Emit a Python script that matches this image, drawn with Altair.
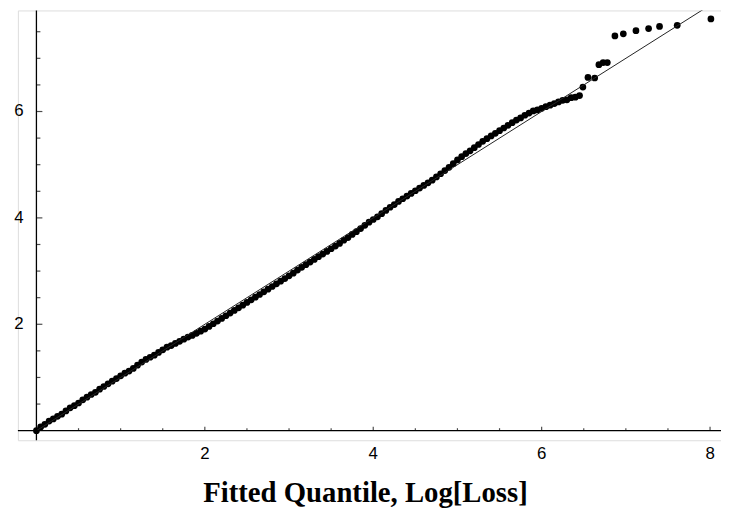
import altair as alt
import pandas as pd

q_fit = [
    0.00, 0.05, 0.10, 0.15, 0.20, 0.25, 0.30, 0.35, 0.40, 0.45,
    0.50, 0.55, 0.60, 0.65, 0.70, 0.75, 0.80, 0.85, 0.90, 0.95,
    1.00, 1.05, 1.10, 1.15, 1.20, 1.25, 1.30, 1.35, 1.40, 1.45,
    1.50, 1.55, 1.60, 1.65, 1.70, 1.75, 1.80, 1.85, 1.90, 1.95,
    2.00, 2.05, 2.10, 2.15, 2.20, 2.25, 2.30, 2.35, 2.40, 2.45,
    2.50, 2.55, 2.60, 2.65, 2.70, 2.75, 2.80, 2.85, 2.90, 2.95,
    3.00, 3.05, 3.10, 3.15, 3.20, 3.25, 3.30, 3.35, 3.40, 3.45,
    3.50, 3.55, 3.60, 3.65, 3.70, 3.75, 3.80, 3.85, 3.90, 3.95,
    4.00, 4.05, 4.10, 4.15, 4.20, 4.25, 4.30, 4.35, 4.40, 4.45,
    4.50, 4.55, 4.60, 4.65, 4.70, 4.75, 4.80, 4.85, 4.90, 4.95,
    5.00, 5.05, 5.10, 5.15, 5.20, 5.25, 5.30, 5.35, 5.40, 5.45,
    5.50, 5.55, 5.60, 5.65, 5.70, 5.75, 5.80, 5.85, 5.90, 5.95,
    6.00, 6.05, 6.10, 6.15, 6.20, 6.25, 6.30, 6.35, 6.40, 6.45,
    6.49, 6.55, 6.63, 6.68, 6.73, 6.78,
    6.87, 6.97, 7.12, 7.27, 7.40, 7.61, 8.01,
]
q_obs = [
    0.00, 0.07, 0.12, 0.18, 0.22, 0.27, 0.31, 0.37, 0.43, 0.47,
    0.52, 0.58, 0.63, 0.68, 0.72, 0.78, 0.83, 0.88, 0.93, 0.98,
    1.03, 1.08, 1.12, 1.17, 1.23, 1.29, 1.34, 1.38, 1.42, 1.47,
    1.52, 1.57, 1.60, 1.64, 1.68, 1.72, 1.76, 1.79, 1.83, 1.87,
    1.91, 1.96, 2.01, 2.06, 2.11, 2.16, 2.21, 2.26, 2.31, 2.36,
    2.41, 2.46, 2.51, 2.56, 2.61, 2.66, 2.71, 2.76, 2.81, 2.86,
    2.91, 2.96, 3.02, 3.07, 3.12, 3.17, 3.22, 3.27, 3.32, 3.37,
    3.42, 3.47, 3.52, 3.58, 3.63, 3.69, 3.74, 3.80, 3.86, 3.92,
    3.97, 4.02, 4.08, 4.14, 4.20, 4.25, 4.31, 4.36, 4.41, 4.46,
    4.51, 4.56, 4.61, 4.66, 4.71, 4.77, 4.83, 4.89, 4.95, 5.02,
    5.09, 5.15, 5.21, 5.26, 5.32, 5.38, 5.44, 5.49, 5.54, 5.59,
    5.64, 5.69, 5.74, 5.79, 5.84, 5.88, 5.93, 5.97, 6.01, 6.03,
    6.06, 6.09, 6.12, 6.15, 6.18, 6.21, 6.22, 6.26, 6.27, 6.30,
    6.46, 6.64, 6.63, 6.88, 6.92, 6.92,
    7.42, 7.46, 7.52, 7.56, 7.60, 7.62, 7.74,
]

ref_line = [0, 8]

x_major = [2, 4, 6, 8]
x_minor = [0.5, 1, 1.5, 2.5, 3, 3.5, 4.5, 5, 5.5, 6.5, 7, 7.5]
y_major = [2, 4, 6]
y_minor = [0.5, 1, 1.5, 2.5, 3, 3.5, 4.5, 5, 5.5, 6.5, 7, 7.5]

XMIN, XMAX = -0.22, 8.13
YMIN, YMAX = -0.18, 7.90

xs = alt.Scale(domain=[XMIN, XMAX], nice=False, zero=False)
ys = alt.Scale(domain=[YMIN, YMAX], nice=False, zero=False)
X = alt.X("x:Q", scale=xs, axis=None)
Y = alt.Y("y:Q", scale=ys, axis=None)

LABEL_FONT = "Liberation Sans"

pts = alt.Chart(pd.DataFrame({"x": q_fit, "y": q_obs})).mark_point(
    filled=True, shape="circle", size=46, color="black", opacity=1
).encode(X, Y)

diag = alt.Chart(pd.DataFrame({"x": ref_line, "y": ref_line})).mark_line(
    color="#222222", strokeWidth=1, clip=True
).encode(X, Y)

x_axis = alt.Chart(pd.DataFrame({"x": [XMIN], "x2": [XMAX], "y": [0]})).mark_rule(
    color="black", strokeWidth=1.3
).encode(X, x2="x2:Q", y=Y)
y_axis = alt.Chart(pd.DataFrame({"y": [YMIN], "y2": [YMAX], "x": [0]})).mark_rule(
    color="black", strokeWidth=1.3
).encode(Y, y2="y2:Q", x=X)

def xframe(vals):
    return pd.DataFrame({"x": vals, "y": [0] * len(vals)})

def yframe(vals):
    return pd.DataFrame({"y": vals, "x": [0] * len(vals)})

xt_major = alt.Chart(xframe(x_major)).mark_tick(
    orient="vertical", size=4, thickness=1.2, yOffset=-2, color="black"
).encode(X, Y)
xt_minor = alt.Chart(xframe(x_minor)).mark_tick(
    orient="vertical", size=2.5, thickness=1.2, yOffset=-1.25, color="black"
).encode(X, Y)
yt_major = alt.Chart(yframe(y_major)).mark_tick(
    orient="horizontal", size=6, thickness=1.2, xOffset=3, color="black"
).encode(X, Y)
yt_minor = alt.Chart(yframe(y_minor)).mark_tick(
    orient="horizontal", size=4, thickness=1.2, xOffset=2, color="black"
).encode(X, Y)

x_labels = alt.Chart(xframe(x_major)).mark_text(
    font=LABEL_FONT, fontSize=17, dy=24, baseline="middle", align="center", color="black"
).encode(X, Y, text=alt.Text("x:Q", format="d"))
y_labels = alt.Chart(yframe(y_major)).mark_text(
    font=LABEL_FONT, fontSize=17, dx=-13, baseline="middle", align="right", color="black"
).encode(X, Y, text=alt.Text("y:Q", format="d"))

chart = alt.layer(
    pts, diag, x_axis, y_axis, xt_major, xt_minor, yt_major, yt_minor, x_labels, y_labels
).properties(
    width=710,
    height=434,
    autosize="none",
    padding={"left": 10, "top": 0, "right": 0, "bottom": 70},
    title=alt.TitleParams(
        text="Fitted Quantile, Log[Loss]",
        orient="bottom",
        anchor="middle",
        font="Liberation Serif",
        fontSize=29,
        fontWeight="bold",
        color="black",
        offset=17,
        dx=-4,
    ),
).configure_view(stroke=None).configure(background="white")

chart.save("out.html", embed_options={"renderer": "svg", "actions": False})
